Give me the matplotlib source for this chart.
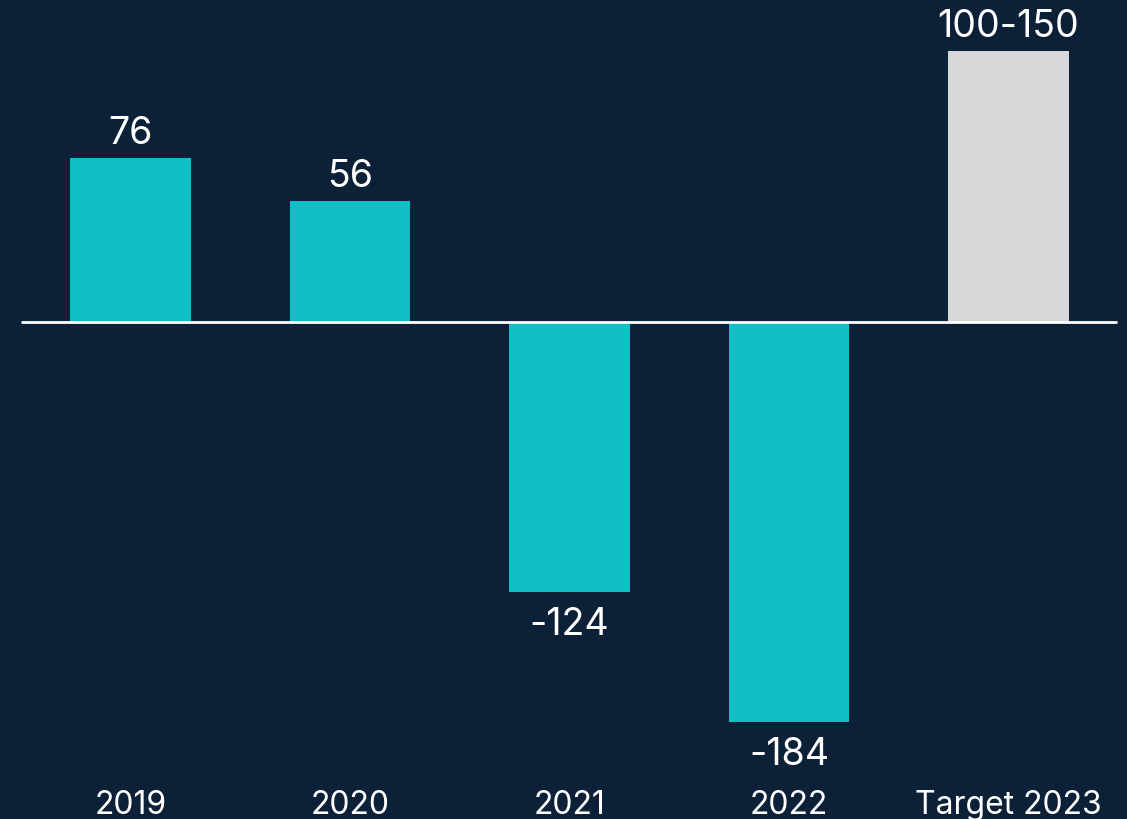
import matplotlib
matplotlib.use("Agg")
import matplotlib.pyplot as plt

categorias = ["2019", "2020", "2021", "2022", "Target 2023"]
valores = [76, 56, -124, -184, 125]
etiquetas = ["76", "56", "-124", "-184", "100-150"]
colores = ["#0fbec7", "#0fbec7", "#0fbec7", "#0fbec7", "#d7d8da"]

fondo = "#0c2137"
plt.rcParams["font.family"] = ["Inter", "DejaVu Sans"]

fig = plt.figure(figsize=(11.27, 8.19), dpi=100, facecolor=fondo)
ax = fig.add_axes([0, 0, 1, 1])
ax.set_facecolor(fondo)

x = list(range(len(categorias)))
barras = ax.bar(x, valores, width=0.551, color=colores, zorder=2)

# linea del cero
ax.hlines(0, -0.5, 4.495, color="white", linewidth=2, zorder=3)

for xi, v, txt in zip(x, valores, etiquetas):
    if v >= 0:
        ax.annotate(txt, (xi, v), xytext=(0, 10), textcoords="offset points",
                    ha="center", va="baseline", color="white", fontsize=27)
    else:
        ax.annotate(txt, (xi, v), xytext=(0, -11), textcoords="offset points",
                    ha="center", va="top", color="white", fontsize=27)

for xi, cat in zip(x, categorias):
    ax.text(xi, 0.0065, cat, transform=ax.get_xaxis_transform(),
            ha="center", va="baseline", color="white", fontsize=23)

ax.set_xlim(-0.5945, 4.54)
ax.set_ylim(-228.8, 148.6)
ax.axis("off")

fig.savefig("out.png", dpi=100, facecolor=fondo)
